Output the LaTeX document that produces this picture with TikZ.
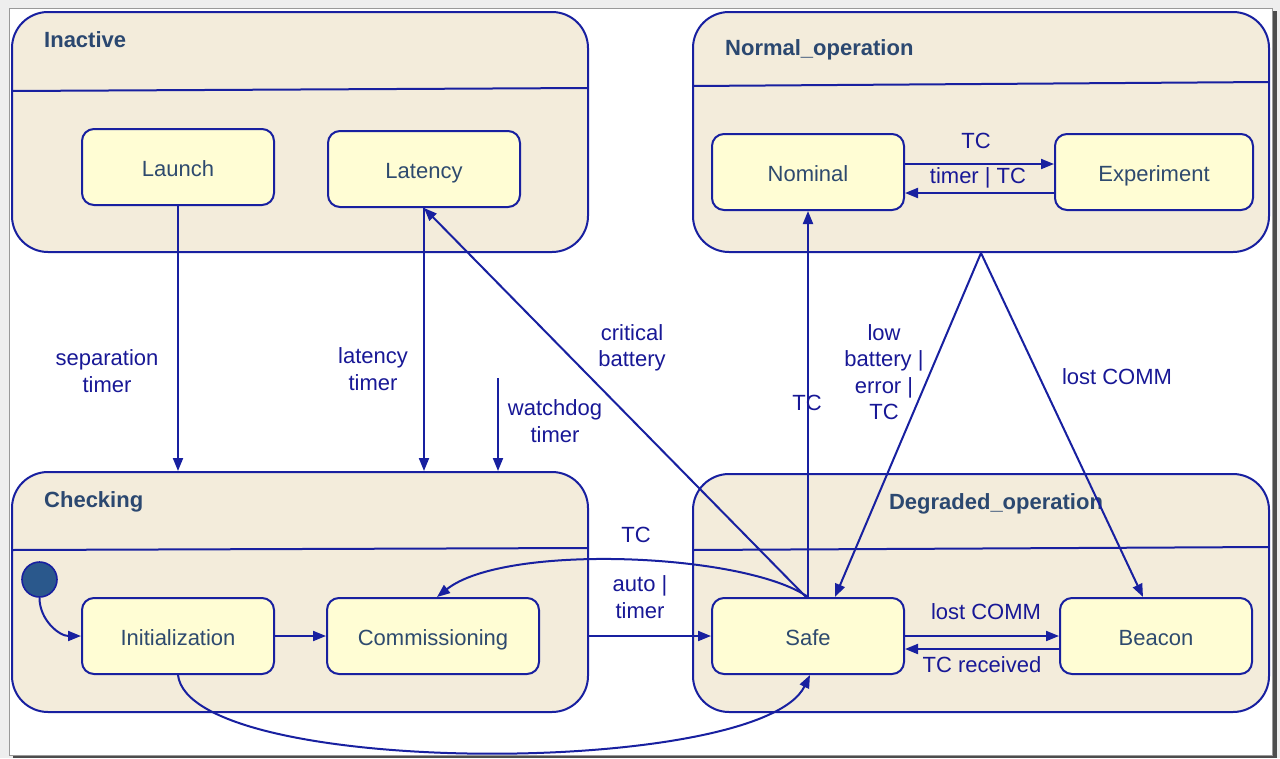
\documentclass[tikz,border=0pt]{standalone}
\usepackage{fontspec}
\setmainfont{Liberation Sans}
\usetikzlibrary{arrows.meta,calc}

\definecolor{edgeblue}{RGB}{24,32,160}
\definecolor{framefill}{RGB}{243,236,219}
\definecolor{statefill}{RGB}{255,253,212}
\definecolor{statetext}{RGB}{46,74,110}
\definecolor{titletext}{RGB}{43,72,112}
\definecolor{labeltext}{RGB}{24,24,150}
\definecolor{dotfill}{RGB}{42,88,140}
\definecolor{pagegray}{RGB}{238,238,238}
\definecolor{shadowgray}{RGB}{77,77,77}

\tikzset{
  basefont/.style={font=\fontsize{22}{26.5}\selectfont},
  composite/.style={draw=edgeblue, fill=framefill, line width=2pt,
    rounded corners=36pt, inner sep=0pt, minimum width=576pt},
  simple/.style={draw=edgeblue, fill=statefill, line width=2pt,
    rounded corners=12pt, inner sep=0pt, minimum height=76pt,
    text height=21pt, text depth=2pt, text=statetext, basefont},
  title/.style={text=titletext, inner sep=0pt,
    font=\fontsize{22}{26.5}\selectfont\bfseries},
  divider/.style={draw=edgeblue, line width=2pt},
  lbl/.style={text=labeltext, align=center, inner sep=0pt, basefont},
  arr/.style={draw=edgeblue, line width=2pt,
    -{Triangle[length=13pt,width=10pt]}},
  initdot/.style={circle, draw=edgeblue, fill=dotfill, line width=1.6pt,
    minimum size=35pt, inner sep=0pt}
}

\begin{document}
\begin{tikzpicture}[x=1pt,y=-1pt]
% page with drop shadow
\useasboundingbox (0,0) rectangle (1280,758);
\fill[pagegray] (0,0) rectangle (1280,758);
\fill[shadowgray] (13,11) rectangle (1277,758);
\filldraw[fill=white, draw=black!40, line width=0.8pt] (9,8) rectangle (1272,755);

% composite states
\node[composite, minimum height=240pt] (inactive) at (300,132) {};
\node[composite, minimum height=240pt] (normal)   at (981,132) {};
\node[composite, minimum height=240pt] (checking) at (300,592) {};
\node[composite, minimum height=238pt] (degraded) at (981,593) {};

% compartment dividers
\draw[divider] (12,91) -- (588,88);
\draw[divider] (693,86) -- (1269,82);
\draw[divider] (12,550) -- (588,548);
\draw[divider] (693,550) -- (1269,547);

% composite titles
\node[title, anchor=base west] (t-inactive) at (44,47) {Inactive};
\node[title, anchor=base west] (t-normal)   at (725,55) {Normal\_operation};
\node[title, anchor=base west] (t-checking) at (44,507) {Checking};
\node[title, anchor=base]      (t-degraded) at (996,509) {Degraded\_operation};

% simple states
\node[simple, minimum width=192pt] (launch)     at (178,167) {Launch};
\node[simple, minimum width=192pt] (latency)    at (424,169) {Latency};
\node[simple, minimum width=192pt] (nominal)    at (808,172) {Nominal};
\node[simple, minimum width=198pt] (experiment) at (1154,172) {Experiment};
\node[simple, minimum width=192pt] (init)       at (178,636) {Initialization};
\node[simple, minimum width=212pt] (comm)       at (433,636) {Commissioning};
\node[simple, minimum width=192pt] (safe)       at (808,636) {Safe};
\node[simple, minimum width=192pt] (beacon)     at (1156,636) {Beacon};

% initial pseudo-state
\node[initdot] (start) at (39.5,579.5) {};

% transitions out of Inactive
\draw[arr] (launch.south) -- (launch.south |- checking.north);
\node[lbl] (l-sep) at (107,371) {separation\\timer};
\draw[arr] (latency.south) -- (latency.south |- checking.north);
\node[lbl] (l-lat) at (373,369) {latency\\timer};
\coordinate (wdog) at (498,378);
\draw[arr] (wdog) -- (wdog |- checking.north);
\node[lbl] (l-wd) at (555,421) {watchdog\\timer};

% inside Checking
\draw[arr] (start.south) to[out=-90,in=180] (init.west);
\draw[arr] (init.east) -- (comm.west);

% Checking to Degraded_operation
\draw[arr] (checking.east |- safe.west) -- (safe.west);
\node[lbl] (l-auto) at (640,597) {auto |\\timer};
\draw[arr] (safe.north) .. controls (745,553) and (505,543) .. ([xshift=4pt]comm.north);
\node[lbl] (l-tc1) at (636,535) {TC};
\draw[arr] (init.south) .. controls (190,778) and (760,778) .. ([xshift=2pt]safe.south);

% Safe to Latency and Nominal
\draw[arr] ([xshift=-2pt]safe.north) -- (latency.south);
\node[lbl] (l-crit) at (632,348) {critical\\battery};
\draw[arr] (safe.north) -- (nominal.south);
\node[lbl] (l-tc2) at (807,403) {TC};

% Normal_operation to Degraded_operation
\draw[arr] (normal.south) -- ([xshift=27pt]safe.north);
\node[lbl] (l-low) at (884,372) {low\\battery |\\error |\\TC};
\draw[arr] (normal.south) -- ([xshift=-13pt]beacon.north);
\node[lbl] (l-lost1) at (1117,377) {lost COMM};

% inside Normal_operation
\draw[arr] ([yshift=8pt]nominal.east) -- ([yshift=8pt]nominal.east -| experiment.west);
\node[lbl] (l-tc3) at (976,141) {TC};
\draw[arr] ([yshift=-21pt]experiment.west) -- ([yshift=-21pt]experiment.west -| nominal.east);
\node[lbl] (l-timer) at (978,178) {timer | TC};

% inside Degraded_operation
\draw[arr] (safe.east) -- (safe.east -| beacon.west);
\node[lbl] (l-lost2) at (986,612) {lost COMM};
\draw[arr] ([yshift=-13pt]beacon.west) -- ([yshift=-13pt]beacon.west -| safe.east);
\node[lbl] (l-tcr) at (982,665) {TC received};
\end{tikzpicture}
\end{document}
